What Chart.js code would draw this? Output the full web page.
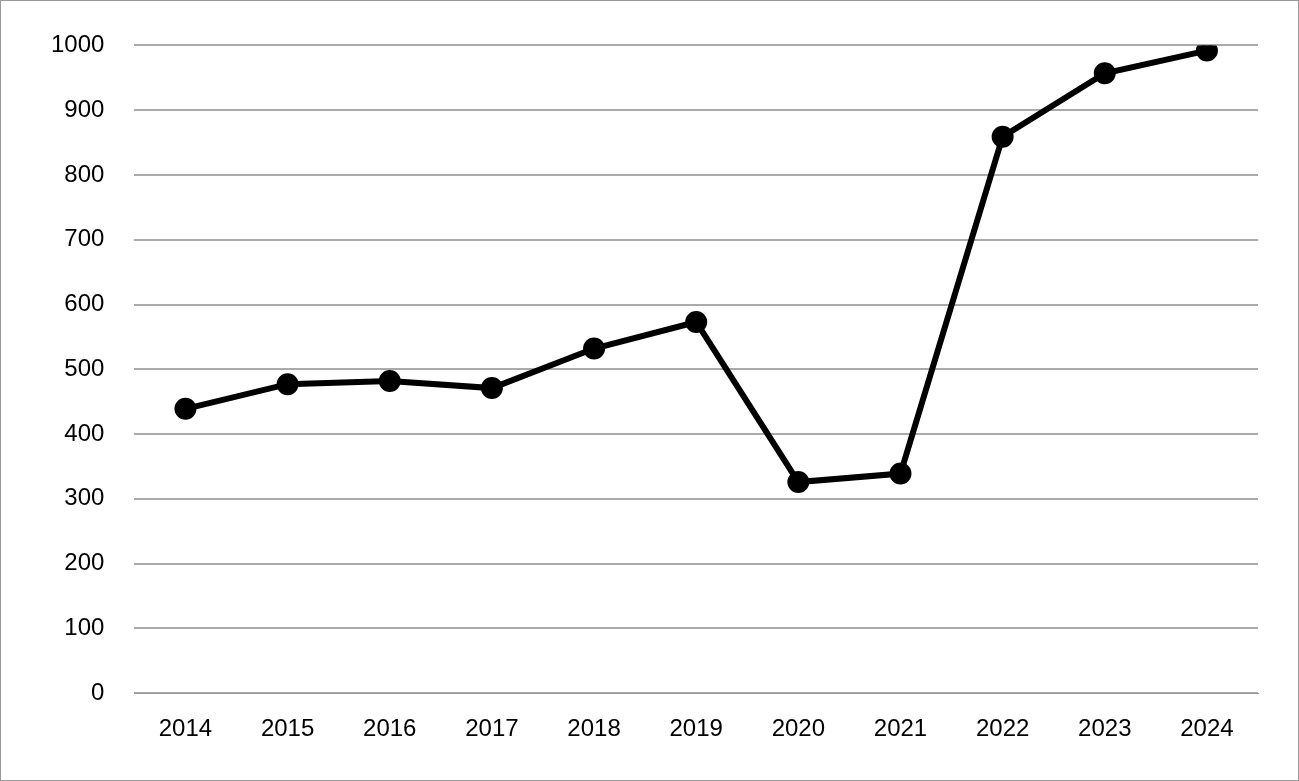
<!DOCTYPE html>
<html><head><meta charset="utf-8">
<script src="https://cdn.jsdelivr.net/npm/chart.js@4"></script>
<style>html,body{margin:0;padding:0;background:#fff}#w{width:1297px;height:779px;border:1px solid #999;}</style>
</head><body><div id="w"><canvas id="c"></canvas></div>
<script>
const categories=["2014","2015","2016","2017","2018","2019","2020","2021","2022","2023","2024"];
const values=[439,477,482,471,532,573,326,339,859,957,992];
Chart.defaults.font.family="'Liberation Sans', Arial, sans-serif";
Chart.defaults.font.size=24;
Chart.defaults.color="#000";
new Chart(document.getElementById('c'),{type:'line',
data:{labels:categories,datasets:[{data:values,borderColor:'#000',backgroundColor:'#000',borderWidth:6,pointRadius:8,pointBackgroundColor:'#000',tension:0}]},
options:{responsive:true,maintainAspectRatio:false,animation:false,
layout:{padding:{top:26,right:40,bottom:22,left:20}},
plugins:{legend:{display:false},tooltip:{enabled:false}},
scales:{x:{offset:true,grid:{display:false},border:{color:'#999',width:1},ticks:{padding:14}},
y:{min:0,max:1000,ticks:{stepSize:100,padding:30,callback:v=>String(v)},grid:{color:'#aaa',lineWidth:2,drawTicks:false},border:{display:false}}}}});
</script></body></html>
